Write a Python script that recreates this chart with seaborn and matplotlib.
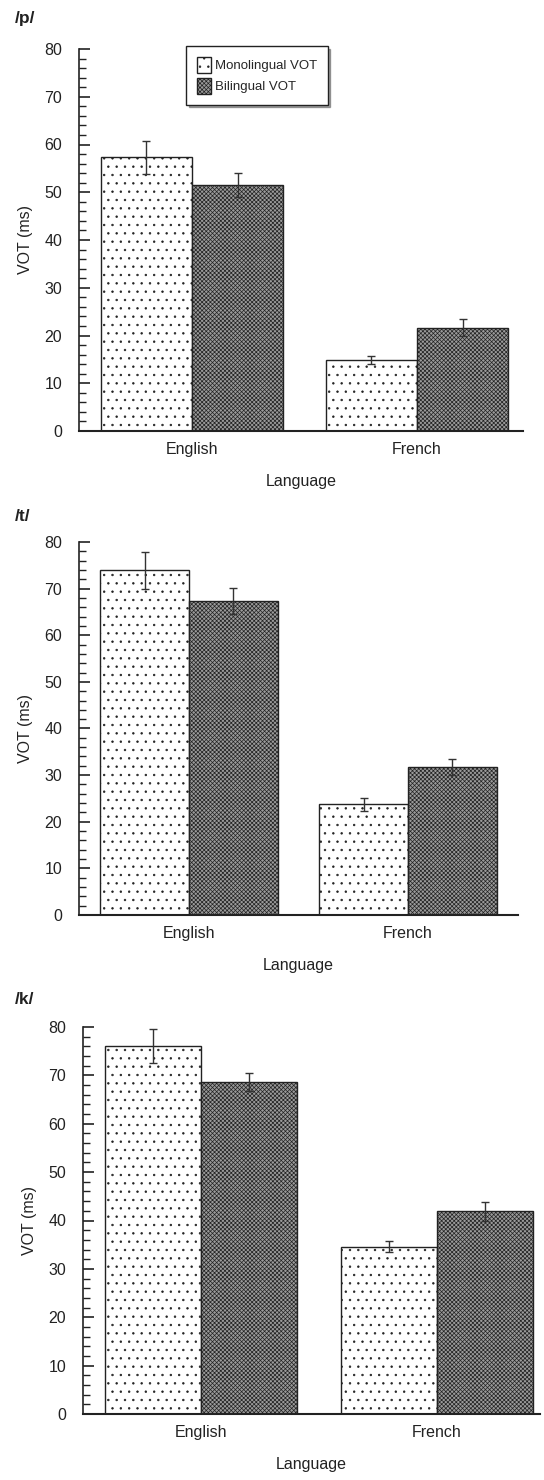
import matplotlib
matplotlib.use("Agg")
import matplotlib.pyplot as plt
import seaborn as sns
import pandas as pd
import numpy as np
from matplotlib.ticker import MultipleLocator
from matplotlib.patches import Patch

sns.set_theme(style="white")
plt.rcParams['font.family'] = ['Liberation Sans', 'DejaVu Sans']
plt.rcParams['hatch.linewidth'] = 0.5

languages = ["English", "French"]
groups = ["Monolingual VOT", "Bilingual VOT"]
panels = ["/p/", "/t/", "/k/"]

p_mono = [57.3, 14.9]
p_bi = [51.5, 21.6]
p_mono_err = [3.5, 0.85]
p_bi_err = [2.5, 1.8]

t_mono = [73.9, 23.8]
t_bi = [67.4, 31.7]
t_mono_err = [3.9, 1.4]
t_bi_err = [2.8, 1.7]

k_mono = [76.1, 34.6]
k_bi = [68.6, 41.9]
k_mono_err = [3.5, 1.1]
k_bi_err = [1.9, 1.9]

data = {
    "/p/": (p_mono, p_bi, p_mono_err, p_bi_err),
    "/t/": (t_mono, t_bi, t_mono_err, t_bi_err),
    "/k/": (k_mono, k_bi, k_mono_err, k_bi_err),
}

W, H = 544, 1480
fig = plt.figure(figsize=(W / 100, H / 100), dpi=100)

# (left px, right px, top px, bottom px)
boxes = [(79, 523, 49, 431), (79, 518, 542, 915), (83, 540, 1027, 1414)]
xlims = [(-0.502, 1.471), (-0.502, 1.502), (-0.5, 1.436)]
title_y = [18, 517, 999]

hatches = {"Monolingual VOT": "..", "Bilingual VOT": "xxxxxxxx"}
faces = {"Monolingual VOT": "white", "Bilingual VOT": "#9a9a9a"}

for i, ph in enumerate(panels):
    l, r, t, b = boxes[i]
    ax = fig.add_axes([l / W, 1 - b / H, (r - l) / W, (b - t) / H])
    mono, bi, me, be = data[ph]
    df = pd.DataFrame({
        "Language": languages * 2,
        "Group": [groups[0]] * 2 + [groups[1]] * 2,
        "VOT": mono + bi,
    })
    sns.barplot(data=df, x="Language", y="VOT", hue="Group", hue_order=groups,
                order=languages, ax=ax, width=0.81, errorbar=None,
                palette=faces, edgecolor="#222222", linewidth=1.0, legend=False)
    errs = {groups[0]: me, groups[1]: be}
    vals = {groups[0]: mono, groups[1]: bi}
    bar_containers = list(ax.containers)
    for gi, cont in enumerate(bar_containers):
        g = groups[gi]
        for j, patch in enumerate(cont.patches):
            patch.set_hatch(hatches[g])
            patch.set_facecolor(faces[g])
            cx = patch.get_x() + patch.get_width() / 2
            ax.errorbar(cx, vals[g][j], yerr=errs[g][j], color="#333333",
                        capsize=3, elinewidth=1.0, capthick=1.0, fmt="none", zorder=5)
    ax.set_ylim(0, 80)
    ax.set_xlim(*xlims[i])
    ax.yaxis.set_major_locator(MultipleLocator(10))
    ax.yaxis.set_minor_locator(MultipleLocator(2))
    ax.tick_params(axis="y", which="major", direction="in", length=8, width=1.2,
                   labelsize=11.5, left=True, pad=12, colors="#222222")
    ax.tick_params(axis="y", which="minor", direction="in", length=5, width=1.0, left=True,
                   colors="#222222")
    ax.tick_params(axis="x", which="both", length=0, labelsize=11.5, pad=8, colors="#222222")
    for s in ["top", "right"]:
        ax.spines[s].set_visible(False)
    ax.spines["left"].set_color("#222222")
    ax.spines["left"].set_linewidth(1.2)
    ax.spines["bottom"].set_color("#222222")
    ax.spines["bottom"].set_linewidth(1.5)
    ax.set_ylabel("VOT (ms)", fontsize=11.5, color="#222222", labelpad=8)
    ax.set_xlabel("Language", fontsize=11.5, color="#222222", labelpad=12)
    fig.text(15 / W, 1 - title_y[i] / H, ph, fontsize=12.5, fontweight="bold",
             va="center", ha="left", color="#222222")
    if i == 0:
        handles = [Patch(facecolor=faces[g], hatch=hatches[g], edgecolor="#222222", label=g)
                   for g in groups]
        leg = ax.legend(handles=handles, loc="upper left",
                        bbox_to_anchor=((186 - l) / (r - l), 1 - (46 - t) / (b - t)),
                        fontsize=9.5, frameon=True, fancybox=False, shadow=True,
                        edgecolor="#222222", handlelength=1.1, handleheight=1.5,
                        handletextpad=0.3, borderpad=0.8, labelspacing=0.4,
                        borderaxespad=0)
        leg.get_frame().set_linewidth(1.0)

fig.savefig("out.png", dpi=100, facecolor="white")
